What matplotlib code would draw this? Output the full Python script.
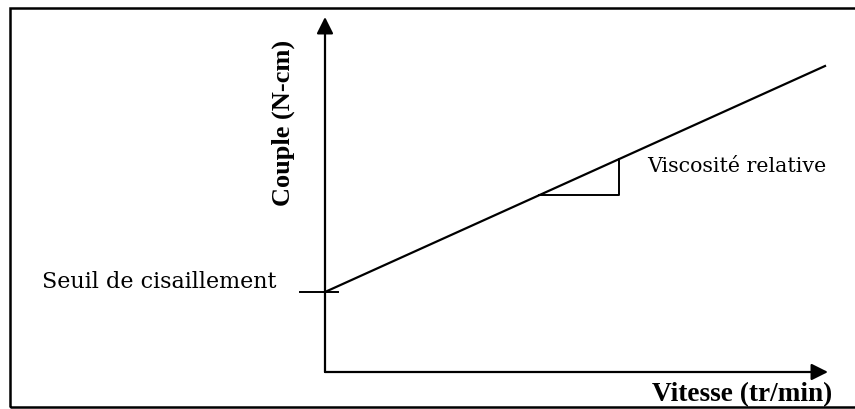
import matplotlib.pyplot as plt
from matplotlib.patches import Rectangle

# Schematic data (arbitrary units)
vitesse = [0, 10]          # speed range shown
seuil = 4.0                # yield torque (intercept)
couple_max = 15.3          # torque at max speed
tri_x = [4.28, 5.88]       # slope triangle x extent

x_label = 'Vitesse (tr/min)'
y_label = 'Couple (N-cm)'
seuil_label = 'Seuil de cisaillement'
visc_label = 'Viscosité relative'

slope = (couple_max - seuil) / (vitesse[1] - vitesse[0])
couple = [seuil + slope * v for v in vitesse]

fig = plt.figure(figsize=(8.55, 4.10), dpi=100)
ax = fig.add_axes([0, 0, 1, 1])
ax.set_xlim(-6.5, 10.6)
ax.set_ylim(-1.85, 18.65)
ax.axis('off')

# outer frame
fig.patches.append(Rectangle((10 / 855, 2 / 410), 1.0, 399 / 410,
                             transform=fig.transFigure, fill=False,
                             edgecolor='black', linewidth=1.8))

# axes arrows
arrow = dict(arrowstyle='-|>,head_length=1.0,head_width=0.5', color='black',
             lw=1.6, shrinkA=0, shrinkB=0)
ax.annotate('', xy=(10.06, 0), xytext=(0, 0), arrowprops=arrow)
ax.annotate('', xy=(0, 17.75), xytext=(0, 0), arrowprops=arrow)

# line
ax.plot(vitesse, couple, color='black', lw=1.6)

# seuil tick
ax.plot([-0.5, 0.26], [seuil, seuil], color='black', lw=1.4)

# slope triangle
y1 = seuil + slope * tri_x[0]
y2 = seuil + slope * tri_x[1]
ax.plot([tri_x[0], tri_x[1], tri_x[1]], [y1, y1, y2], color='black', lw=1.4)

ax.text(-0.96, 4.55, seuil_label, ha='right', va='center',
        family='DejaVu Serif', fontsize=16)
ax.text(6.44, 10.3, visc_label, ha='left', va='center',
        family='DejaVu Serif', fontsize=14.8)
ax.text(-0.84, 12.5, y_label, ha='center', va='center', rotation=90,
        family='Liberation Serif', fontweight='bold', fontsize=19)
ax.text(6.55, -1.1, x_label, ha='left', va='center',
        family='Liberation Serif', fontweight='bold', fontsize=19.6)

fig.savefig('out.png', dpi=100)
